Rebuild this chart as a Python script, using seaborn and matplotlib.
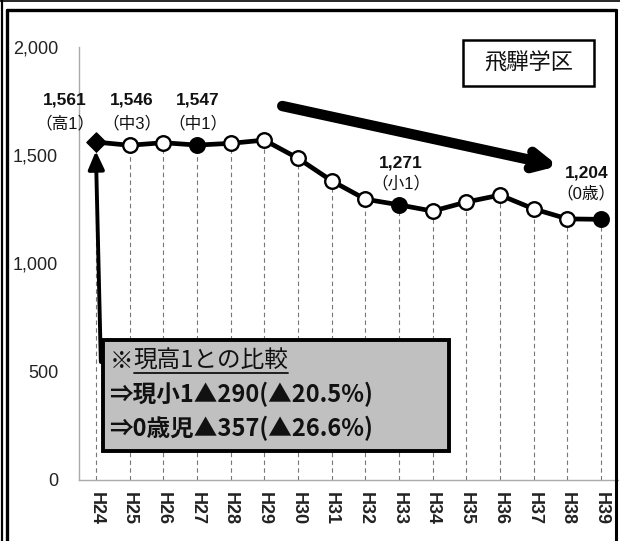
import matplotlib
matplotlib.use("Agg")
import matplotlib.pyplot as plt
import seaborn as sns
import numpy as np
import pandas as pd
from matplotlib.patches import Rectangle
from matplotlib.lines import Line2D

sns.set_theme(style="white")
plt.rcParams['font.family'] = ['Liberation Sans', 'Noto Sans CJK JP', 'DejaVu Sans']
CJK = ['Noto Sans CJK JP', 'DejaVu Sans']

# ---- data ----
years = ["H24", "H25", "H26", "H27", "H28", "H29", "H30", "H31",
         "H32", "H33", "H34", "H35", "H36", "H37", "H38", "H39"]
students = [1561, 1546, 1558, 1547, 1555, 1570, 1486, 1382,
            1297, 1271, 1242, 1284, 1316, 1252, 1206, 1204]
marker_kind = ["diamond", "open", "open", "filled", "open", "open", "open", "open",
               "open", "filled", "open", "open", "open", "open", "open", "filled"]
label_years = ["H24", "H25", "H27", "H33", "H39"]
label_values = ["1,561", "1,546", "1,547", "1,271", "1,204"]
label_grades = ["（高1）", "（中3）", "（中1）", "（小1）", "（0歳）"]
yticks = [0, 500, 1000, 1500, 2000]
ytick_labels = ["0", "500", "1,000", "1,500", "2,000"]
title = "飛騨学区"
note_lines = ["※", "現高1との比較", "⇒現小1▲290(▲20.5%)", "⇒0歳児▲357(▲26.6%)"]

df = pd.DataFrame({"year": years, "students": students, "kind": marker_kind})
df["x"] = np.arange(len(years))

W, H = 620, 541
fig = plt.figure(figsize=(W / 100, H / 100), dpi=100)
ax = fig.add_axes([79 / W, 61 / H, (618 - 79) / W, (480 - 47) / H])

def px2data(px, py):
    return ((px - 96) / 33.8, (480 - py) / (433 / 2000))

# drop lines
for xi, yi in zip(df["x"], df["students"]):
    ax.plot([xi, xi], [0, yi], color="#777777", lw=0.8, ls=(0, (4, 3)), zorder=1)

sns.lineplot(data=df, x="x", y="students", color="black", lw=3.4, ax=ax,
             zorder=3, legend=False)
sub = df[df.kind == "open"]
sns.scatterplot(data=sub, x="x", y="students", marker="o", s=110, color="white",
                edgecolor="black", linewidth=1.7, ax=ax, zorder=4, legend=False)
sub = df[df.kind == "filled"]
sns.scatterplot(data=sub, x="x", y="students", marker="o", s=110, color="black",
                edgecolor="black", linewidth=1.7, ax=ax, zorder=4, legend=False)
sub = df[df.kind == "diamond"]
sns.scatterplot(data=sub, x="x", y="students", marker="D", s=95, color="black",
                edgecolor="black", linewidth=1.0, ax=ax, zorder=4, legend=False)

ax.set_xlim(-0.5, 15.5)
ax.set_ylim(0, 2000)
ax.set_xlabel("")
ax.set_ylabel("")
ax.set_yticks(yticks)
ax.set_yticklabels(ytick_labels, fontsize=13, color="#222222")
ax.set_xticks(df["x"])
ax.set_xticklabels(years, rotation=270, fontsize=13, fontweight="bold", color="#222222")
ax.set_xticks(np.arange(-0.5, 15.6, 1), minor=True)
ax.tick_params(axis="x", which="major", length=0, pad=9)
ax.tick_params(axis="x", which="minor", length=5, color="#999999", width=1, direction="out")
ax.tick_params(axis="y", which="major", length=5, color="#999999", width=1, direction="out", pad=10)
for s in ["top", "right"]:
    ax.spines[s].set_visible(False)
for s in ["left", "bottom"]:
    ax.spines[s].set_color("#aaaaaa")
    ax.spines[s].set_linewidth(1)
ax.patch.set_alpha(0)

# value labels
label_pos = {"H24": (65, 100, 123), "H25": (132, 100, 123), "H27": (198, 100, 123),
             "H33": (402, 163, 183), "H39": (588, 173, 193)}
for yr, v, g in zip(label_years, label_values, label_grades):
    px, py1, py2 = label_pos[yr]
    x1, y1 = px2data(px, py1)
    _, y2 = px2data(px, py2)
    ax.text(x1, y1, v, ha="center", va="center", fontsize=12.5, fontweight="bold", color="#111111")
    ax.text(x1, y2, g, ha="center", va="center", fontsize=12, color="#111111")

# big trend arrow
s0 = px2data(283, 106)
s1 = px2data(560, 166)
ax.annotate("", xy=s1, xytext=s0, xycoords="data",
            arrowprops=dict(arrowstyle="->,head_length=1.0,head_width=0.5", lw=7.5,
                            color="black", shrinkA=0, shrinkB=0), zorder=6,
            annotation_clip=False)

# vertical arrow
v0 = px2data(101, 362)
v1 = px2data(96, 151)
ax.annotate("", xy=v1, xytext=v0, xycoords="data",
            arrowprops=dict(arrowstyle="-|>,head_length=0.9,head_width=0.4", lw=2.8,
                            color="black", shrinkA=0, shrinkB=0), zorder=6)

# note box (figure pixel coordinates)
def fx(px):
    return px / W

def fy(py):
    return 1 - py / H

fig.patches.append(Rectangle((fx(103), fy(451)), (449 - 103) / W, (451 - 340) / H,
                             transform=fig.transFigure, facecolor="#c0c0c0",
                             edgecolor="black", lw=2.8, zorder=10))
t0 = fig.text(fx(110), fy(361), note_lines[0], ha="left", va="center", fontsize=17,
              family=CJK, color="#111111", zorder=11)
fig.canvas.draw()
r = fig.canvas.get_renderer()
bb0 = t0.get_window_extent(r)
t1 = fig.text(bb0.x1 / W, fy(361), note_lines[1], ha="left", va="center", fontsize=17,
              family=CJK, color="#111111", zorder=11)
fig.canvas.draw()
bb1 = t1.get_window_extent(r)
fig.lines.append(Line2D([bb1.x0 / W, bb1.x1 / W], [fy(373), fy(373)],
                        transform=fig.transFigure, color="#111111", lw=1.3, zorder=11))
fig.text(fx(109), fy(394), note_lines[2], ha="left", va="center", fontsize=17,
         fontweight="bold", family=CJK, color="#111111", zorder=11)
fig.text(fx(109), fy(428), note_lines[3], ha="left", va="center", fontsize=17,
         fontweight="bold", family=CJK, color="#111111", zorder=11)

# title box
fig.patches.append(Rectangle((fx(463), fy(86)), (594 - 463) / W, (86 - 40) / H,
                             transform=fig.transFigure, facecolor="white",
                             edgecolor="black", lw=1.8, zorder=10))
fig.text(fx(528.5), fy(63), title, ha="center", va="center", fontsize=16,
         family=CJK, color="#111111", zorder=11)

# outer frames
def fline(x0, y0, x1, y1, lw):
    fig.lines.append(Line2D([fx(x0), fx(x1)], [fy(y0), fy(y1)], transform=fig.transFigure,
                            color="black", lw=lw, zorder=12))

fline(0, 1, 620, 1, 1.2)
fline(2, 0, 2, 541, 1.6)
fline(6.5, 9.5, 6.5, 541, 2.4)
fline(6.5, 9.5, 615.5, 9.5, 2.4)
fline(615.5, 9.5, 615.5, 541, 2.2)

fig.savefig("out.png", dpi=100)
